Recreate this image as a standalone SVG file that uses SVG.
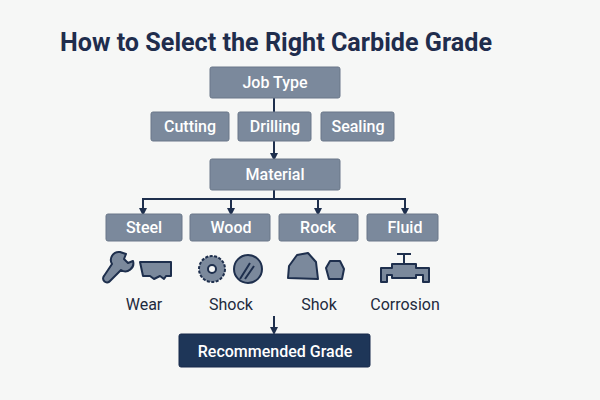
<svg xmlns="http://www.w3.org/2000/svg" width="600" height="400" viewBox="0 0 600 400">
<defs>
<marker id="ah" markerWidth="8" markerHeight="8" refX="4" refY="4" orient="auto" markerUnits="userSpaceOnUse"><path d="M0,0 L8,4 L0,8 z" fill="#1e2f4d"/></marker>
<style>
.b{fill:#7b899c;stroke:#6a7789;stroke-width:1}
.t{font-family:Roboto,"Liberation Sans",Arial,sans-serif;font-weight:500;font-size:16px;fill:#fff;text-anchor:middle}
.l{font-family:Roboto,"Liberation Sans",Arial,sans-serif;font-size:16px;fill:#1e2a3d;text-anchor:middle}
.c{stroke:#1e2f4d;stroke-width:2;fill:none}
.i{fill:#7b899c;stroke:#1e2f4d;stroke-width:2;stroke-linejoin:round}
</style>
</defs>
<rect width="600" height="400" fill="#f6f7f6"/>
<text x="60" y="51" font-family="Roboto,Liberation Sans,Arial,sans-serif" font-size="25" font-weight="bold" fill="#1f2d4d" textLength="432" lengthAdjust="spacingAndGlyphs">How to Select the Right Carbide Grade</text>
<g id="connectors">
<line class="c" x1="274" y1="98" x2="274" y2="112"/>
<line class="c" x1="274" y1="141" x2="274" y2="157" marker-end="url(#ah)"/>
<line class="c" x1="274" y1="190" x2="274" y2="199"/>
<line class="c" x1="143" y1="199" x2="405" y2="199"/>
<line class="c" x1="143" y1="198" x2="143" y2="212" marker-end="url(#ah)"/>
<line class="c" x1="231" y1="198" x2="231" y2="212" marker-end="url(#ah)"/>
<line class="c" x1="318" y1="198" x2="318" y2="212" marker-end="url(#ah)"/>
<line class="c" x1="405" y1="198" x2="405" y2="212" marker-end="url(#ah)"/>
<line class="c" x1="274" y1="316" x2="274" y2="331" marker-end="url(#ah)"/>
</g>
<g id="jobtype"><rect class="b" x="210" y="67" width="130" height="31" rx="2"/><text class="t" x="275" y="88">Job Type</text></g>
<g id="cutting"><rect class="b" x="151" y="112" width="78" height="29" rx="2"/><text class="t" x="190" y="132">Cutting</text></g>
<g id="drilling"><rect class="b" x="238" y="112" width="73" height="29" rx="2"/><text class="t" x="275" y="132">Drilling</text></g>
<g id="sealing"><rect class="b" x="321" y="112" width="73" height="29" rx="2"/><text class="t" x="358" y="132">Sealing</text></g>
<g id="material"><rect class="b" x="210" y="159" width="130" height="31" rx="2"/><text class="t" x="275" y="180">Material</text></g>
<g id="steel"><rect class="b" x="106" y="214" width="76" height="27" rx="2"/><text class="t" x="144" y="233">Steel</text></g>
<g id="wood"><rect class="b" x="190" y="214" width="80" height="27" rx="2"/><text class="t" x="231" y="233">Wood</text></g>
<g id="rock"><rect class="b" x="279" y="214" width="79" height="27" rx="2"/><text class="t" x="318" y="233">Rock</text></g>
<g id="fluid"><rect class="b" x="367" y="214" width="71" height="27" rx="2"/><text class="t" x="405" y="233">Fluid</text></g>
<g id="wear">
<path class="i" d="M140,262 L171,262 L171,276 L166,276 L164,279 L160,276 L154,279 L150,276 L143,276 Z"/>
<path class="i" d="M120,252 a8,8 0 0 0 -8,12 L104,276 a3,3 0 0 0 6,5 L121,270 a8,8 0 0 0 12,-9 l-5,2 -4,-4 2,-5 z"/>
<text class="l" x="144" y="310">Wear</text>
</g>
<g id="shock">
<circle class="i" cx="212" cy="269" r="13" stroke-dasharray="3 1.5"/>
<circle cx="212" cy="269" r="4" fill="#f6f7f6" stroke="#1e2f4d" stroke-width="2"/>
<circle class="i" cx="248" cy="269" r="14"/>
<path class="c" d="M240,279 L250,263 M245,279 L254,266"/>
<text class="l" x="231" y="310">Shock</text>
</g>
<g id="shok">
<path class="i" d="M288,278 L289,266 L297,255 L308,253 L316,262 L318,279 Z"/>
<path class="i" d="M329,279 L326,268 L330,261 L340,261 L344,269 L342,279 Z"/>
<text class="l" x="319" y="310">Shok</text>
</g>
<g id="corrosion">
<path class="i" d="M381,282 L381,268 L392,268 L392,264 L416,264 L416,268 L429,268 L429,282 L423,282 L423,275 L416,275 L416,278 L392,278 L392,275 L387,275 L387,282 Z"/>
<path class="c" d="M404,264 L404,254 M397,254 L411,254"/>
<text class="l" x="405" y="310">Corrosion</text>
</g>
<g id="recommended"><rect x="179" y="334" width="191" height="33" rx="2" fill="#1e3658" stroke="#16294a"/><text class="t" x="275" y="357" font-weight="bold" font-size="16">Recommended Grade</text></g>
</svg>
